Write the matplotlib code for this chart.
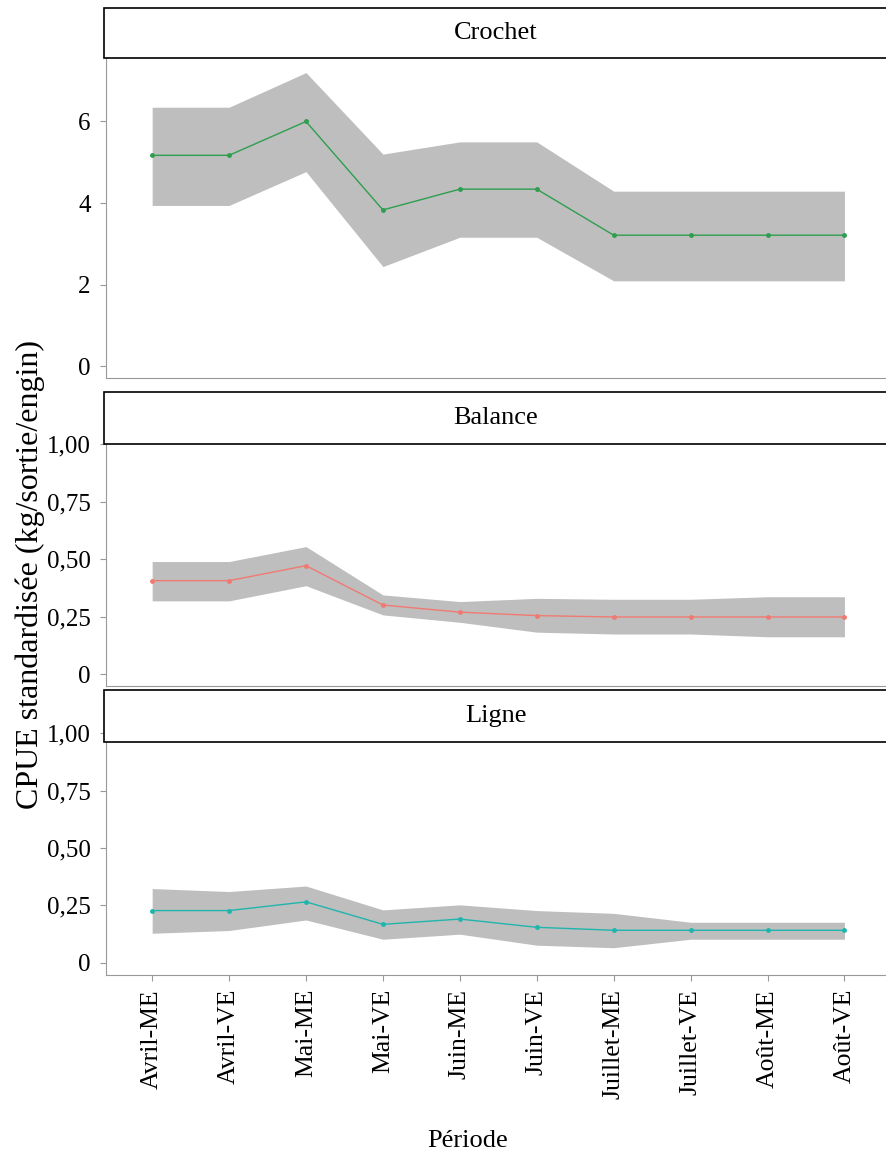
import numpy as np
import matplotlib.pyplot as plt
from matplotlib.patches import Rectangle

plt.rcParams['font.family'] = ['Liberation Serif', 'DejaVu Serif']

periodes = ["Avril-ME", "Avril-VE", "Mai-ME", "Mai-VE", "Juin-ME",
            "Juin-VE", "Juillet-ME", "Juillet-VE", "Août-ME", "Août-VE"]

crochet_moy = [5.17, 5.17, 6.0, 3.83, 4.34, 4.34, 3.21, 3.21, 3.21, 3.21]
crochet_haut = [6.35, 6.35, 7.2, 5.2, 5.5, 5.5, 4.29, 4.29, 4.29, 4.29]
crochet_bas = [3.94, 3.94, 4.77, 2.44, 3.16, 3.16, 2.09, 2.09, 2.09, 2.09]

balance_moy = [0.407, 0.407, 0.472, 0.301, 0.27, 0.255, 0.249, 0.249, 0.249, 0.249]
balance_haut = [0.49, 0.49, 0.555, 0.345, 0.316, 0.33, 0.326, 0.326, 0.337, 0.337]
balance_bas = [0.319, 0.319, 0.385, 0.258, 0.226, 0.183, 0.175, 0.175, 0.163, 0.163]

ligne_moy = [0.227, 0.227, 0.265, 0.167, 0.19, 0.154, 0.141, 0.141, 0.141, 0.141]
ligne_haut = [0.323, 0.31, 0.334, 0.23, 0.252, 0.227, 0.215, 0.176, 0.176, 0.176]
ligne_bas = [0.128, 0.14, 0.186, 0.102, 0.124, 0.076, 0.065, 0.102, 0.102, 0.102]

W, H = 886, 1155
fig = plt.figure(figsize=(W / 100, H / 100), dpi=100)

# (nom, moy, haut, bas, couleur, px haut, px bas, ylim, ticks, labels, strip frac)
panneaux = [
    ("Crochet", crochet_moy, crochet_haut, crochet_bas, "#2e9e4f",
     8, 378, (-0.294, 8.785), [0, 2, 4, 6], ["0", "2", "4", "6"], 0.865),
    ("Balance", balance_moy, balance_haut, balance_bas, "#f07a72",
     392, 686, (-0.051, 1.227), [0, 0.25, 0.5, 0.75, 1.0],
     ["0", "0,25", "0,50", "0,75", "1,00"], 0.823),
    ("Ligne", ligne_moy, ligne_haut, ligne_bas, "#1fb5ad",
     690, 975, (-0.054, 1.189), [0, 0.25, 0.5, 0.75, 1.0],
     ["0", "0,25", "0,50", "0,75", "1,00"], 0.818),
]

x = np.arange(len(periodes))
gauche = 106 / W

for i, (nom, moy, haut, bas, coul, ph, pb, ylim, ticks, labels, sf) in enumerate(panneaux):
    ax = fig.add_axes([gauche, 1 - pb / H, 1 - gauche, (pb - ph) / H])
    ax.fill_between(x, bas, haut, color="#bebebe", linewidth=0)
    ax.plot(x, moy, color=coul, linewidth=1, marker="o", markersize=2.5)
    ax.set_xlim(-0.6, 9.54)
    ax.set_ylim(*ylim)
    ax.set_yticks(ticks)
    ax.set_yticklabels(labels, fontsize=18)
    for s in ["top", "right"]:
        ax.spines[s].set_visible(False)
    for s in ["left", "bottom"]:
        ax.spines[s].set_color("#999999")
    ax.tick_params(axis="y", color="#999999", length=4, pad=7)
    ax.add_patch(Rectangle((-0.002, sf), 1.1, 1 - sf, transform=ax.transAxes,
                           facecolor="white", edgecolor="black", linewidth=1.2,
                           clip_on=False, zorder=5))
    ax.text(0.5, (1 + sf) / 2, nom, transform=ax.transAxes, ha="center",
            va="center", fontsize=19, zorder=6)
    if i < 2:
        ax.set_xticks([])
    else:
        ax.set_xticks(x)
        ax.set_xticklabels(periodes, rotation=90, fontsize=18.5)
        ax.tick_params(axis="x", color="#999999", length=4, pad=6)

fig.text(0.034, 0.503, "CPUE standardisée (kg/sortie/engin)", rotation=90,
         ha="center", va="center", fontsize=23)
fig.text(0.528, 0.012, "Période", ha="center", va="center", fontsize=19)

fig.savefig("out.png", dpi=100)
